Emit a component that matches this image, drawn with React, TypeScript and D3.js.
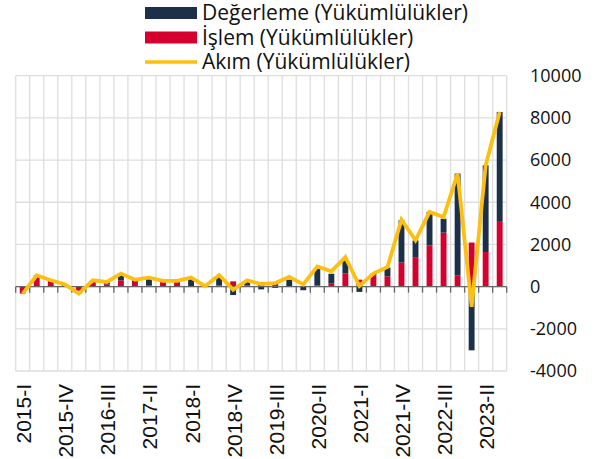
import React, { useEffect, useRef } from "react";
import * as d3 from "d3";

// quarters 2015-I .. 2023-III
const romans = ["I", "II", "III", "IV"];
const quarters: string[] = [];
for (let y = 2015; y <= 2023; y++) {
  for (let q = 0; q < 4; q++) {
    if (y === 2023 && q > 2) break;
    quarters.push(`${y}-${romans[q]}`);
  }
}

const islem = [
  -330, 450, 250, 80, -180, 220, 110, 300, 220, 60, 220, 220, 20, 10,
  50, 250, 60, 220, 140, 0, 0, 60, 140, 620, 330, 540, 490, 1140, 1370,
  1960, 2560, 540, 2090, 1640, 3110,
];
const degerleme = [
  0, 90, 50, 30, -150, 80, 110, 310, 110, 340, 50, 50, 400, 10,
  430, -400, 220, -130, -60, 380, -170, 800, 470, 640, -250, 80, 410,
  2010, 820, 1580, 660, 4820, -3020, 4110, 5170,
];
const akim = [
  -330, 540, 300, 110, -330, 300, 220, 620, 330, 430, 270, 270, 430, 20,
  550, -150, 300, 120, 170, 460, 110, 960, 730, 1400, 30, 620, 930,
  3175, 2200, 3540, 3300, 5360, -960, 5750, 8280,
];
const yTicks = [-4000, -2000, 0, 2000, 4000, 6000, 8000, 10000];

const legendItems = [
  { label: "Değerleme (Yükümlülükler)", color: "#1c3049", type: "rect" },
  { label: "İşlem (Yükümlülükler)", color: "#d6002f", type: "rect" },
  { label: "Akım (Yükümlülükler)", color: "#fdc010", type: "line" },
];

const App = () => {
  const ref = useRef<SVGSVGElement>(null);

  useEffect(() => {
    const svg = d3.select(ref.current);
    svg.selectAll("*").remove();

    const left = 15.7,
      right = 506.7,
      top = 75.7,
      bottom = 371;
    const font = "'Open Sans', sans-serif";

    const x = d3.scaleBand().domain(quarters).range([left, right]).padding(0);
    const y = d3.scaleLinear().domain([-4000, 10000]).range([bottom, top]);
    const bw = x.bandwidth() * 0.42;

    // grid
    const g = svg.append("g");
    g.selectAll(".hg")
      .data(yTicks)
      .enter()
      .append("line")
      .attr("x1", left)
      .attr("x2", right)
      .attr("y1", (d) => y(d))
      .attr("y2", (d) => y(d))
      .attr("stroke", "#dedede")
      .attr("stroke-width", 1.3);
    const bounds = quarters.map((q) => x(q)!).concat([right]);
    g.selectAll(".vg")
      .data(bounds)
      .enter()
      .append("line")
      .attr("x1", (d) => d)
      .attr("x2", (d) => d)
      .attr("y1", top)
      .attr("y2", bottom)
      .attr("stroke", "#dedede")
      .attr("stroke-width", 1.3);

    // stacked bars (positive / negative stacked separately)
    quarters.forEach((q, i) => {
      let pos = 0,
        neg = 0;
      const parts = [
        { v: islem[i], c: "#d6002f" },
        { v: degerleme[i], c: "#1c3049" },
      ];
      parts.forEach((p) => {
        let y0, y1;
        if (p.v >= 0) {
          y0 = pos;
          y1 = pos + p.v;
          pos = y1;
        } else {
          y0 = neg;
          y1 = neg + p.v;
          neg = y1;
        }
        svg
          .append("rect")
          .attr("x", x(q)! + (x.bandwidth() - bw) / 2)
          .attr("width", bw)
          .attr("y", Math.min(y(y0), y(y1)))
          .attr("height", Math.abs(y(y0) - y(y1)))
          .attr("fill", p.c);
      });
    });

    // zero axis with ticks
    svg
      .append("line")
      .attr("x1", left)
      .attr("x2", right)
      .attr("y1", y(0))
      .attr("y2", y(0))
      .attr("stroke", "#666")
      .attr("stroke-width", 1.3);
    svg
      .selectAll(".tk")
      .data(bounds)
      .enter()
      .append("line")
      .attr("x1", (d) => d)
      .attr("x2", (d) => d)
      .attr("y1", y(0))
      .attr("y2", y(0) + 6)
      .attr("stroke", "#666")
      .attr("stroke-width", 1.3);

    // line
    const line = d3
      .line<number>()
      .x((_, i) => x(quarters[i])! + x.bandwidth() / 2)
      .y((d) => y(d));
    svg
      .append("path")
      .datum(akim)
      .attr("d", line)
      .attr("fill", "none")
      .attr("stroke", "#fdc010")
      .attr("stroke-width", 3.8)
      .attr("stroke-linejoin", "miter");

    // y axis labels (right)
    svg
      .selectAll(".yl")
      .data(yTicks)
      .enter()
      .append("text")
      .attr("x", 530)
      .attr("y", (d) => y(d))
      .attr("dy", "0.35em")
      .attr("font-family", font)
      .attr("font-size", 18)
      .attr("fill", "#111")
      .text((d) => d);

    // x labels every 3 quarters
    svg
      .selectAll(".xl")
      .data(quarters.filter((_, i) => i % 3 === 0))
      .enter()
      .append("text")
      .attr(
        "transform",
        (d) => `translate(${x(d)! + x.bandwidth() / 2 + 8.5},384) rotate(-90)`
      )
      .attr("text-anchor", "end")
      .attr("font-family", "'Liberation Sans', Arial, sans-serif")
      .attr("font-size", 21)
      .attr("fill", "#111")
      .text((d) => d);

    // legend
    const lg = svg.append("g");
    legendItems.forEach((it, i) => {
      const cy = 13 + i * 24.5;
      if (it.type === "rect") {
        lg.append("rect")
          .attr("x", 145)
          .attr("y", cy - 6)
          .attr("width", 52)
          .attr("height", 12)
          .attr("fill", it.color);
      } else {
        lg.append("line")
          .attr("x1", 145)
          .attr("x2", 197)
          .attr("y1", cy)
          .attr("y2", cy)
          .attr("stroke", it.color)
          .attr("stroke-width", 3.5);
      }
      lg.append("text")
        .attr("x", 202)
        .attr("y", cy)
        .attr("dy", "0.35em")
        .attr("font-family", font)
        .attr("font-size", 21)
        .attr("fill", "#111")
        .text(it.label);
    });
  }, []);

  return (
    <svg
      ref={ref}
      width={611}
      height={459}
      style={{ position: "absolute", left: 0, top: 0, background: "#fff" }}
    />
  );
};

export default App;
